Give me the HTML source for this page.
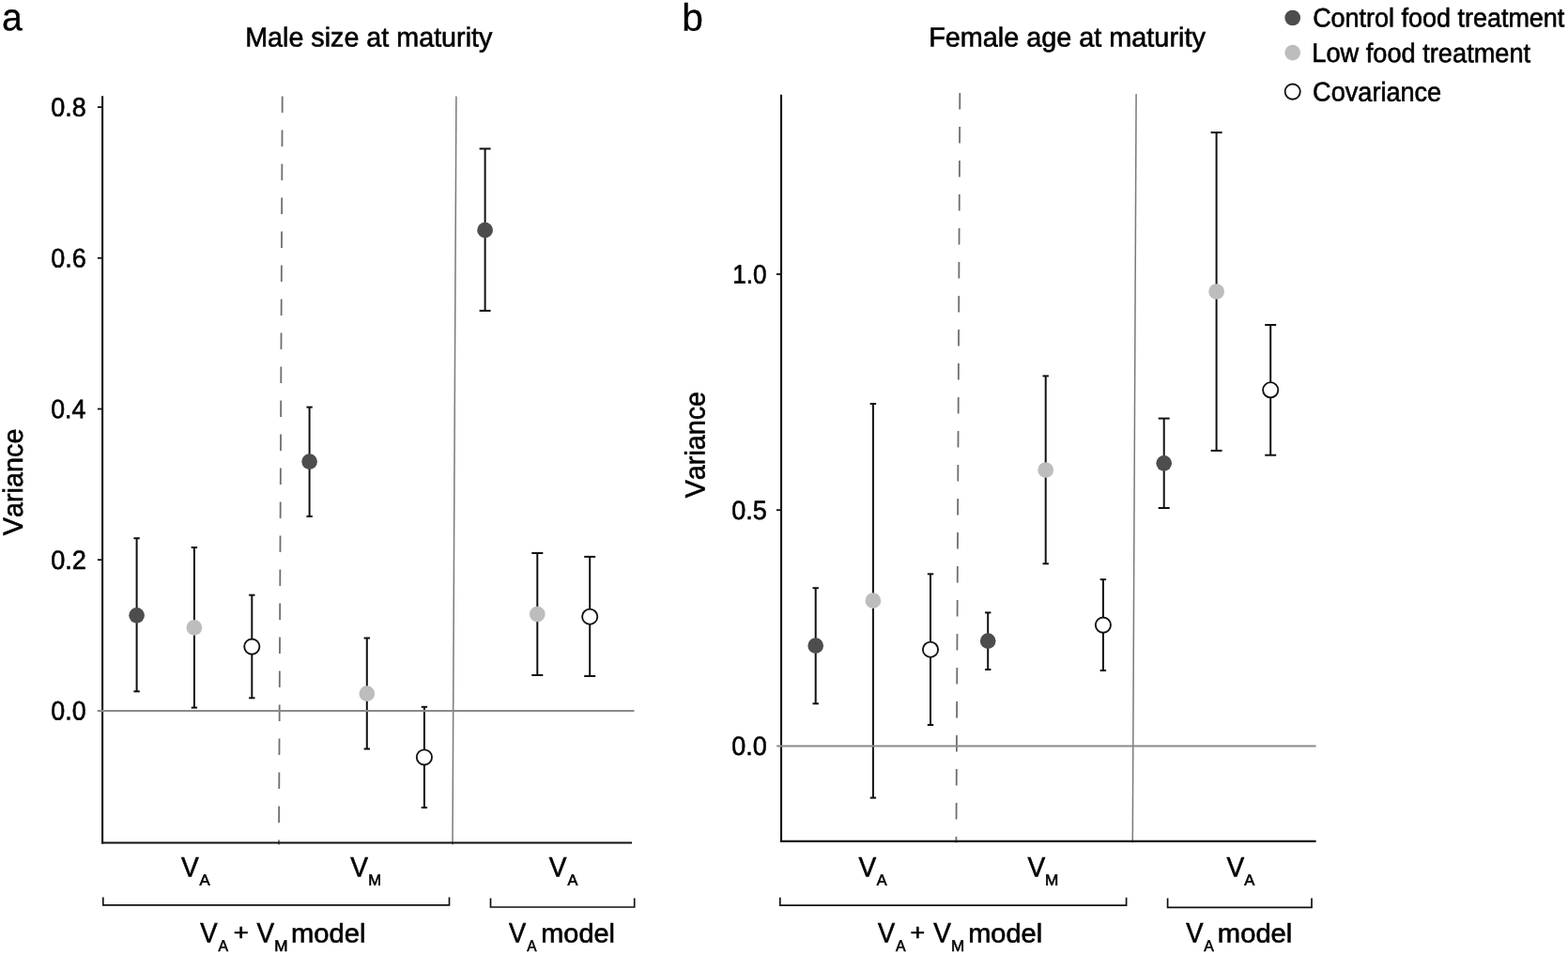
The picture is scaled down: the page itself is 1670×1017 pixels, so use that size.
<!DOCTYPE html>
<html lang="en"><head><meta charset="utf-8"><title>Variance components</title>
<style>
html,body{margin:0;padding:0;background:#fff;}
body{width:1670px;height:1017px;overflow:hidden;}
svg{display:block;}
svg text{font-family:"Liberation Sans",Arial,Helvetica,sans-serif;font-kerning:none;white-space:pre;}
</style></head><body>
<svg width="1670" height="1017" viewBox="0 0 1670 1017">
<rect width="1670" height="1017" fill="#fff"/>
<line x1="300.7" y1="102.5" x2="297.0" y2="899.5" stroke="#6e6e6e" stroke-width="1.8" stroke-dasharray="17.5 18.5"/>
<line x1="485.9" y1="102.5" x2="482.0" y2="899.5" stroke="#7a7a7a" stroke-width="1.5"/>
<line x1="109.1" y1="102.3" x2="109.1" y2="898.6" stroke="#111" stroke-width="2.1"/>
<line x1="108.05" y1="897.5" x2="673" y2="897.5" stroke="#111" stroke-width="2.1"/>
<line x1="103.9" y1="114.1" x2="109" y2="114.1" stroke="#111" stroke-width="1.8"/>
<text transform="matrix(0.9568,0.0005,0,1,54.25,123.80)" font-size="28.21" fill="#000" stroke="#000" stroke-width="0.6">0.8</text>
<line x1="103.9" y1="274.8" x2="109" y2="274.8" stroke="#111" stroke-width="1.8"/>
<text transform="matrix(0.9572,0.0005,0,1,54.25,284.50)" font-size="28.21" fill="#000" stroke="#000" stroke-width="0.6">0.6</text>
<line x1="103.9" y1="435.5" x2="109" y2="435.5" stroke="#111" stroke-width="1.8"/>
<text transform="matrix(0.9466,0.0005,0,1,54.26,445.20)" font-size="28.21" fill="#000" stroke="#000" stroke-width="0.6">0.4</text>
<line x1="103.9" y1="596.2" x2="109" y2="596.2" stroke="#111" stroke-width="1.8"/>
<text transform="matrix(0.9619,0.0005,0,1,54.24,605.90)" font-size="28.21" fill="#000" stroke="#000" stroke-width="0.6">0.2</text>
<text transform="matrix(0.9536,0.0005,0,1,54.25,766.60)" font-size="28.21" fill="#000" stroke="#000" stroke-width="0.6">0.0</text>
<line x1="145.6" y1="573.2" x2="145.6" y2="736.3" stroke="#111" stroke-width="2"/>
<line x1="142.4" y1="573.2" x2="148.79999999999998" y2="573.2" stroke="#111" stroke-width="2"/>
<line x1="142.4" y1="736.3" x2="148.79999999999998" y2="736.3" stroke="#111" stroke-width="2"/>
<line x1="206.9" y1="583.0" x2="206.9" y2="753.6" stroke="#111" stroke-width="2"/>
<line x1="203.70000000000002" y1="583.0" x2="210.1" y2="583.0" stroke="#111" stroke-width="2"/>
<line x1="203.70000000000002" y1="753.6" x2="210.1" y2="753.6" stroke="#111" stroke-width="2"/>
<line x1="268.3" y1="633.7" x2="268.3" y2="743.3" stroke="#111" stroke-width="2"/>
<line x1="265.1" y1="633.7" x2="271.5" y2="633.7" stroke="#111" stroke-width="2"/>
<line x1="265.1" y1="743.3" x2="271.5" y2="743.3" stroke="#111" stroke-width="2"/>
<line x1="329.6" y1="433.6" x2="329.6" y2="549.9" stroke="#111" stroke-width="2"/>
<line x1="326.40000000000003" y1="433.6" x2="332.8" y2="433.6" stroke="#111" stroke-width="2"/>
<line x1="326.40000000000003" y1="549.9" x2="332.8" y2="549.9" stroke="#111" stroke-width="2"/>
<line x1="390.8" y1="679.5" x2="390.8" y2="797.5" stroke="#111" stroke-width="2"/>
<line x1="387.6" y1="679.5" x2="394.0" y2="679.5" stroke="#111" stroke-width="2"/>
<line x1="387.6" y1="797.5" x2="394.0" y2="797.5" stroke="#111" stroke-width="2"/>
<line x1="451.9" y1="752.8" x2="451.9" y2="860.0" stroke="#111" stroke-width="2"/>
<line x1="448.7" y1="752.8" x2="455.09999999999997" y2="752.8" stroke="#111" stroke-width="2"/>
<line x1="448.7" y1="860.0" x2="455.09999999999997" y2="860.0" stroke="#111" stroke-width="2"/>
<line x1="516.6" y1="158.4" x2="516.6" y2="330.9" stroke="#111" stroke-width="2"/>
<line x1="510.6" y1="158.4" x2="522.6" y2="158.4" stroke="#111" stroke-width="2"/>
<line x1="510.6" y1="330.9" x2="522.6" y2="330.9" stroke="#111" stroke-width="2"/>
<line x1="572.3" y1="589.0" x2="572.3" y2="719.0" stroke="#111" stroke-width="2"/>
<line x1="566.3" y1="589.0" x2="578.3" y2="589.0" stroke="#111" stroke-width="2"/>
<line x1="566.3" y1="719.0" x2="578.3" y2="719.0" stroke="#111" stroke-width="2"/>
<line x1="628.2" y1="592.9" x2="628.2" y2="720.0" stroke="#111" stroke-width="2"/>
<line x1="622.2" y1="592.9" x2="634.2" y2="592.9" stroke="#111" stroke-width="2"/>
<line x1="622.2" y1="720.0" x2="634.2" y2="720.0" stroke="#111" stroke-width="2"/>
<line x1="103.7" y1="756.9" x2="675.5" y2="756.9" stroke="#8a8a8a" stroke-width="2.0"/>
<circle cx="145.6" cy="655.3" r="8.35" fill="#4d4d4d"/>
<circle cx="206.9" cy="668.4" r="8.35" fill="#bdbdbd"/>
<circle cx="268.3" cy="688.6" r="8.1" fill="#fff" stroke="#111" stroke-width="1.85"/>
<circle cx="329.6" cy="491.6" r="8.35" fill="#4d4d4d"/>
<circle cx="390.8" cy="738.7" r="8.35" fill="#bdbdbd"/>
<circle cx="451.9" cy="806.4" r="8.1" fill="#fff" stroke="#111" stroke-width="1.85"/>
<circle cx="516.6" cy="245.2" r="8.35" fill="#4d4d4d"/>
<circle cx="572.3" cy="654.0" r="8.35" fill="#bdbdbd"/>
<circle cx="628.2" cy="656.7" r="8.1" fill="#fff" stroke="#111" stroke-width="1.85"/>
<line x1="1022.3" y1="98.9" x2="1018.4" y2="897.5" stroke="#6e6e6e" stroke-width="1.8" stroke-dasharray="17.5 18.5"/>
<line x1="1210.1" y1="100" x2="1206.3" y2="897.5" stroke="#7a7a7a" stroke-width="1.5"/>
<line x1="832" y1="100.8" x2="832" y2="897" stroke="#111" stroke-width="2.1"/>
<line x1="830.95" y1="895.9" x2="1401.6" y2="895.9" stroke="#111" stroke-width="2.1"/>
<line x1="826.9" y1="292.0" x2="832" y2="292.0" stroke="#111" stroke-width="1.8"/>
<text transform="matrix(0.9286,0.0005,0,1,780.20,301.70)" font-size="28.21" fill="#000" stroke="#000" stroke-width="0.6">1.0</text>
<line x1="826.9" y1="543.2" x2="832" y2="543.2" stroke="#111" stroke-width="1.8"/>
<text transform="matrix(0.9585,0.0005,0,1,779.14,552.90)" font-size="28.21" fill="#000" stroke="#000" stroke-width="0.6">0.5</text>
<text transform="matrix(0.9563,0.0005,0,1,779.15,804.10)" font-size="28.21" fill="#000" stroke="#000" stroke-width="0.6">0.0</text>
<line x1="868.7" y1="626.2" x2="868.7" y2="749.3" stroke="#111" stroke-width="2"/>
<line x1="865.5" y1="626.2" x2="871.9000000000001" y2="626.2" stroke="#111" stroke-width="2"/>
<line x1="865.5" y1="749.3" x2="871.9000000000001" y2="749.3" stroke="#111" stroke-width="2"/>
<line x1="929.9" y1="430.0" x2="929.9" y2="849.6" stroke="#111" stroke-width="2"/>
<line x1="926.6999999999999" y1="430.0" x2="933.1" y2="430.0" stroke="#111" stroke-width="2"/>
<line x1="926.6999999999999" y1="849.6" x2="933.1" y2="849.6" stroke="#111" stroke-width="2"/>
<line x1="991.0" y1="611.3" x2="991.0" y2="772.0" stroke="#111" stroke-width="2"/>
<line x1="987.8" y1="611.3" x2="994.2" y2="611.3" stroke="#111" stroke-width="2"/>
<line x1="987.8" y1="772.0" x2="994.2" y2="772.0" stroke="#111" stroke-width="2"/>
<line x1="1052.2" y1="652.4" x2="1052.2" y2="713.0" stroke="#111" stroke-width="2"/>
<line x1="1049.0" y1="652.4" x2="1055.4" y2="652.4" stroke="#111" stroke-width="2"/>
<line x1="1049.0" y1="713.0" x2="1055.4" y2="713.0" stroke="#111" stroke-width="2"/>
<line x1="1113.7" y1="400.4" x2="1113.7" y2="600.3" stroke="#111" stroke-width="2"/>
<line x1="1110.5" y1="400.4" x2="1116.9" y2="400.4" stroke="#111" stroke-width="2"/>
<line x1="1110.5" y1="600.3" x2="1116.9" y2="600.3" stroke="#111" stroke-width="2"/>
<line x1="1174.9" y1="617.1" x2="1174.9" y2="714.0" stroke="#111" stroke-width="2"/>
<line x1="1171.7" y1="617.1" x2="1178.1000000000001" y2="617.1" stroke="#111" stroke-width="2"/>
<line x1="1171.7" y1="714.0" x2="1178.1000000000001" y2="714.0" stroke="#111" stroke-width="2"/>
<line x1="1239.7" y1="445.6" x2="1239.7" y2="541.0" stroke="#111" stroke-width="2"/>
<line x1="1233.7" y1="445.6" x2="1245.7" y2="445.6" stroke="#111" stroke-width="2"/>
<line x1="1233.7" y1="541.0" x2="1245.7" y2="541.0" stroke="#111" stroke-width="2"/>
<line x1="1295.6" y1="141.1" x2="1295.6" y2="479.9" stroke="#111" stroke-width="2"/>
<line x1="1289.6" y1="141.1" x2="1301.6" y2="141.1" stroke="#111" stroke-width="2"/>
<line x1="1289.6" y1="479.9" x2="1301.6" y2="479.9" stroke="#111" stroke-width="2"/>
<line x1="1353.2" y1="346.0" x2="1353.2" y2="484.7" stroke="#111" stroke-width="2"/>
<line x1="1347.2" y1="346.0" x2="1359.2" y2="346.0" stroke="#111" stroke-width="2"/>
<line x1="1347.2" y1="484.7" x2="1359.2" y2="484.7" stroke="#111" stroke-width="2"/>
<line x1="827.2" y1="794.4" x2="1401.6" y2="794.4" stroke="#8a8a8a" stroke-width="2.0"/>
<circle cx="868.7" cy="687.6" r="8.35" fill="#4d4d4d"/>
<circle cx="929.9" cy="639.7" r="8.35" fill="#bdbdbd"/>
<circle cx="991.0" cy="691.7" r="8.1" fill="#fff" stroke="#111" stroke-width="1.85"/>
<circle cx="1052.2" cy="682.6" r="8.35" fill="#4d4d4d"/>
<circle cx="1113.7" cy="500.5" r="8.35" fill="#bdbdbd"/>
<circle cx="1174.9" cy="665.6" r="8.1" fill="#fff" stroke="#111" stroke-width="1.85"/>
<circle cx="1239.7" cy="493.3" r="8.35" fill="#4d4d4d"/>
<circle cx="1295.6" cy="310.5" r="8.35" fill="#bdbdbd"/>
<circle cx="1353.2" cy="415.3" r="8.1" fill="#fff" stroke="#111" stroke-width="1.85"/>
<text transform="matrix(0.9618,0.0005,0,1,1.98,32.35)" font-size="40.89" fill="#000" stroke="#000" stroke-width="0.3">a</text>
<text transform="matrix(0.9995,0.0005,0,1,726.33,32.45)" font-size="40.71" fill="#000" stroke="#000" stroke-width="0.3">b</text>
<text transform="matrix(0.9882,0.0005,0,1,261.14,49.50)" font-size="29.07" fill="#000" stroke="#000" stroke-width="0.6">Male size at maturity</text>
<text transform="matrix(0.9914,0.0005,0,1,989.14,49.40)" font-size="29.07" fill="#000" stroke="#000" stroke-width="0.6">Female age at maturity</text>
<text transform="translate(24.10,570.33) rotate(-90.03) scale(0.9781,1)" font-size="29.51" fill="#000" stroke="#000" stroke-width="0.6">Variance</text>
<text transform="translate(750.60,530.33) rotate(-90.03) scale(0.9699,1)" font-size="29.65" fill="#000" stroke="#000" stroke-width="0.6">Variance</text>
<circle cx="1376.7" cy="19.0" r="8.35" fill="#4d4d4d"/>
<circle cx="1376.7" cy="56.2" r="8.35" fill="#bdbdbd"/>
<circle cx="1376.7" cy="97.6" r="8.1" fill="#fff" stroke="#111" stroke-width="1.85"/>
<text transform="matrix(0.9512,0.0005,0,1,1398.13,28.40)" font-size="28.36" fill="#000" stroke="#000" stroke-width="0.6">Control food treatment</text>
<text transform="matrix(0.9507,0.0005,0,1,1397.27,66.10)" font-size="28.63" fill="#000" stroke="#000" stroke-width="0.6">Low food treatment</text>
<text transform="matrix(0.9415,0.0005,0,1,1398.12,107.60)" font-size="28.79" fill="#000" stroke="#000" stroke-width="0.6">Covariance</text>
<text transform="matrix(0.9433,0.0005,0,1,193.08,933.50)" font-size="29.80" fill="#000" stroke="#000" stroke-width="0.6">V</text>
<text transform="matrix(1.0015,0.0005,0,1,212.57,942.70)" font-size="16.72" fill="#000" stroke="#000" stroke-width="0.6">A</text>
<text transform="matrix(0.9433,0.0005,0,1,373.18,933.50)" font-size="29.80" fill="#000" stroke="#000" stroke-width="0.6">V</text>
<text transform="matrix(0.9927,0.0005,0,1,392.24,942.70)" font-size="16.72" fill="#000" stroke="#000" stroke-width="0.6">M</text>
<text transform="matrix(0.9433,0.0005,0,1,584.78,933.50)" font-size="29.80" fill="#000" stroke="#000" stroke-width="0.6">V</text>
<text transform="matrix(0.9744,0.0005,0,1,604.47,942.70)" font-size="16.72" fill="#000" stroke="#000" stroke-width="0.6">A</text>
<text transform="matrix(0.9433,0.0005,0,1,914.48,933.50)" font-size="29.80" fill="#000" stroke="#000" stroke-width="0.6">V</text>
<text transform="matrix(0.9744,0.0005,0,1,933.87,942.70)" font-size="16.72" fill="#000" stroke="#000" stroke-width="0.6">A</text>
<text transform="matrix(0.9433,0.0005,0,1,1094.38,933.50)" font-size="29.80" fill="#000" stroke="#000" stroke-width="0.6">V</text>
<text transform="matrix(1.0285,0.0005,0,1,1112.89,942.70)" font-size="16.72" fill="#000" stroke="#000" stroke-width="0.6">M</text>
<text transform="matrix(0.9433,0.0005,0,1,1306.38,933.50)" font-size="29.80" fill="#000" stroke="#000" stroke-width="0.6">V</text>
<text transform="matrix(0.9924,0.0005,0,1,1325.27,942.70)" font-size="16.72" fill="#000" stroke="#000" stroke-width="0.6">A</text>
<path d="M109.8 955.5 V963.9 H478.5 V955.5" fill="none" stroke="#111" stroke-width="1.7"/>
<path d="M522.5 956.5 V966.0 H675.7 V956.5" fill="none" stroke="#111" stroke-width="1.7"/>
<path d="M830.8 955.8 V964.2 H1199.6 V955.8" fill="none" stroke="#111" stroke-width="1.7"/>
<path d="M1243.6 956.6 V966.4 H1397.0 V956.6" fill="none" stroke="#111" stroke-width="1.7"/>
<text transform="matrix(0.9274,0.0005,0,1,213.28,1003.50)" font-size="29.65" fill="#000" stroke="#000" stroke-width="0.6">V</text>
<text transform="matrix(0.9232,0.0005,0,1,232.57,1013.00)" font-size="17.15" fill="#000" stroke="#000" stroke-width="0.6">A</text>
<text transform="matrix(1.1449,0.0005,0,1,248.76,1000.90)" font-size="23.91" fill="#000" stroke="#000" stroke-width="0.6">+</text>
<text transform="matrix(0.9377,0.0005,0,1,273.48,1003.50)" font-size="29.65" fill="#000" stroke="#000" stroke-width="0.6">V</text>
<text transform="matrix(1.0023,0.0005,0,1,292.19,1013.00)" font-size="17.15" fill="#000" stroke="#000" stroke-width="0.6">M</text>
<text transform="matrix(1.0316,0.0005,0,1,310.06,1003.50)" font-size="28.29" fill="#000" stroke="#000" stroke-width="0.6">model</text>
<text transform="matrix(0.9172,0.0005,0,1,934.88,1003.50)" font-size="29.65" fill="#000" stroke="#000" stroke-width="0.6">V</text>
<text transform="matrix(0.9232,0.0005,0,1,953.97,1013.00)" font-size="17.15" fill="#000" stroke="#000" stroke-width="0.6">A</text>
<text transform="matrix(1.1191,0.0005,0,1,969.39,1000.90)" font-size="23.91" fill="#000" stroke="#000" stroke-width="0.6">+</text>
<text transform="matrix(0.9428,0.0005,0,1,994.18,1003.50)" font-size="29.65" fill="#000" stroke="#000" stroke-width="0.6">V</text>
<text transform="matrix(0.9936,0.0005,0,1,1013.10,1013.00)" font-size="17.15" fill="#000" stroke="#000" stroke-width="0.6">M</text>
<text transform="matrix(1.0248,0.0005,0,1,1031.17,1003.50)" font-size="28.29" fill="#000" stroke="#000" stroke-width="0.6">model</text>
<text transform="matrix(0.9172,0.0005,0,1,541.98,1003.50)" font-size="29.65" fill="#000" stroke="#000" stroke-width="0.6">V</text>
<text transform="matrix(0.8969,0.0005,0,1,561.37,1013.00)" font-size="17.15" fill="#000" stroke="#000" stroke-width="0.6">A</text>
<text transform="matrix(1.0207,0.0005,0,1,576.28,1003.50)" font-size="28.29" fill="#000" stroke="#000" stroke-width="0.6">model</text>
<text transform="matrix(0.9223,0.0005,0,1,1263.28,1003.50)" font-size="29.65" fill="#000" stroke="#000" stroke-width="0.6">V</text>
<text transform="matrix(0.9232,0.0005,0,1,1282.27,1013.00)" font-size="17.15" fill="#000" stroke="#000" stroke-width="0.6">A</text>
<text transform="matrix(1.0316,0.0005,0,1,1296.86,1003.50)" font-size="28.29" fill="#000" stroke="#000" stroke-width="0.6">model</text>
</svg>
</body></html>
